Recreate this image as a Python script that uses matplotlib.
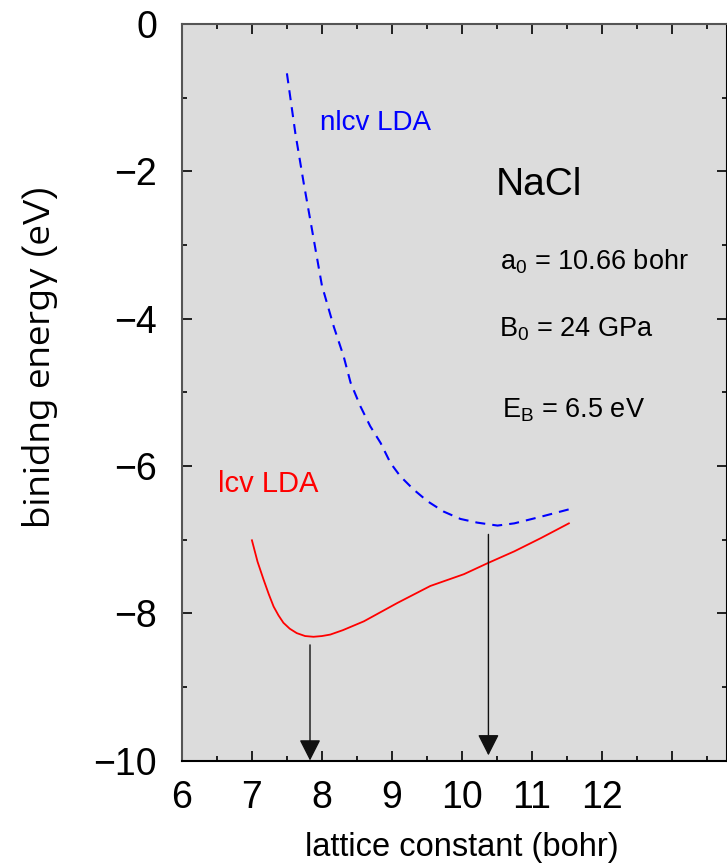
import matplotlib
matplotlib.use("Agg")
import matplotlib.pyplot as plt
from matplotlib.ticker import MultipleLocator, FixedLocator

plt.rcParams['font.family'] = ['Liberation Sans', 'DejaVu Sans']
plt.rcParams['mathtext.fontset'] = 'custom'
plt.rcParams['mathtext.rm'] = 'Liberation Sans'

# lcv LDA (red, solid)
lcv_x = [7.0, 7.08, 7.165, 7.24, 7.31, 7.38, 7.45, 7.54, 7.64, 7.76, 7.88, 8.0, 8.12, 8.3, 8.6,
         9.08, 9.55, 10.03, 10.37, 10.75, 11.13, 11.53]
lcv_y = [-7.01, -7.3, -7.54, -7.74, -7.91, -8.03, -8.13, -8.21, -8.27, -8.31, -8.32, -8.31, -8.29,
         -8.23, -8.11, -7.86, -7.63, -7.47, -7.32, -7.16, -6.98, -6.78]

# nlcv LDA (blue, dashed)
nlcv_x = [7.5, 7.62, 7.74, 7.86, 8.0, 8.17, 8.31, 8.41, 8.55, 8.69, 8.84, 8.98, 9.12, 9.31,
          9.51, 9.74, 9.98, 10.22, 10.51, 10.75, 11.13, 11.53]
nlcv_y = [-0.67, -1.48, -2.16, -2.80, -3.55, -4.11, -4.51, -4.87, -5.19, -5.46, -5.69, -5.96, -6.14, -6.32,
          -6.48, -6.62, -6.72, -6.77, -6.81, -6.78, -6.69, -6.59]

# equilibrium arrows
arrow_x = [7.83, 10.38]
arrow_top = [-8.43, -6.93]
arrow_tip = [-10.0, -9.93]

xticks = [6, 7, 8, 9, 10, 11, 12, 13]
xticklabels = ['6', '7', '8', '9', '10', '11', '12', '']

fig = plt.figure(figsize=(7.27, 8.66), dpi=100)
ax = fig.add_axes([0.2503, 0.1218, 0.7497, 0.8505])
ax.set_facecolor('#dcdcdc')

ax.plot(lcv_x, lcv_y, color='red', lw=1.3)
ax.plot(nlcv_x, nlcv_y, color='blue', lw=1.5, dashes=(4.8, 3.4))

for x, y0, y1 in zip(arrow_x, arrow_top, arrow_tip):
    ax.annotate('', xy=(x, y1), xytext=(x, y0),
                arrowprops=dict(arrowstyle='-|>,head_length=0.65,head_width=0.33',
                                mutation_scale=20, color='#111111', lw=1,
                                shrinkA=0, shrinkB=0))

ax.text(7.97, -1.34, 'nlcv LDA', color='blue', fontsize=20, va='center')
ax.text(6.51, -6.25, 'lcv LDA', color='red', fontsize=21, va='center')
ax.text(10.49, -2.19, 'NaCl', fontsize=28, va='center')
ax.text(10.54, -3.23, r'$\mathregular{a_0}$ = 10.66 bohr', fontsize=19.5, va='center')
ax.text(10.53, -4.15, r'$\mathregular{B_0}$ = 24 GPa', fontsize=19.5, va='center')
ax.text(10.57, -5.24, r'$\mathregular{E_B}$ = 6.5 eV', fontsize=19.5, va='center')

ax.set_xlim(6, 13.79)
ax.set_ylim(-10, 0)
ax.xaxis.set_major_locator(FixedLocator(xticks))
ax.set_xticklabels(xticklabels)
ax.xaxis.set_minor_locator(MultipleLocator(0.5))
ax.yaxis.set_major_locator(MultipleLocator(2))
ax.yaxis.set_minor_locator(MultipleLocator(1))
ax.tick_params(which='both', direction='in', top=True, right=True, width=1.2)
ax.tick_params(which='major', length=7.2, labelsize=27)
ax.tick_params(which='minor', length=3.6)
ax.tick_params(axis='y', pad=18)
ax.tick_params(axis='x', pad=14)

for s in ['top', 'left']:
    ax.spines[s].set_color('#555555')
ax.spines['bottom'].set_color('black')
for s in ax.spines.values():
    s.set_linewidth(1.5)

ax.set_xlabel('lattice constant (bohr)', fontsize=23.5)
ax.set_ylabel('binidng energy (eV)', fontsize=25, family=['Encode Sans Expanded', 'Liberation Sans'])
ax.xaxis.set_label_coords(0.514, -0.097)
ax.yaxis.set_label_coords(-0.228, 0.548)

fig.savefig('out.png', dpi=100)
